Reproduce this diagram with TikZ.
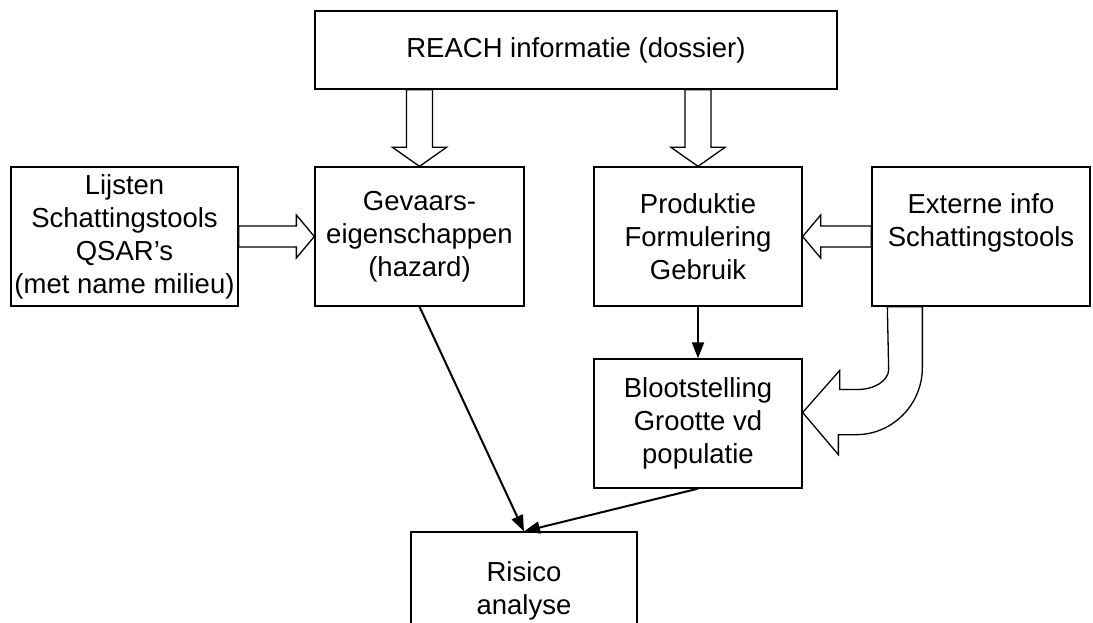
\documentclass[tikz,border=0pt]{standalone}
\usepackage{fontspec}
\setmainfont{Liberation Sans}
\usetikzlibrary{arrows.meta,calc}

\begin{document}
\begin{tikzpicture}[x=1pt,y=-1pt,
    box/.style={draw,line width=1.3pt,align=center,inner sep=0pt,font=\fontsize{27.5}{33}\selectfont},
    fat/.style={draw,line width=1.3pt,line join=miter},
    thin/.style={line width=2pt,-{Triangle[length=16pt,width=12pt]}}]
    \useasboundingbox (0,0) rectangle (1093,623);
    \clip (0,0) rectangle (1093,623);
    \node[box,minimum width=522,minimum height=78] (reach) at (576,50) {REACH informatie (dossier)};
    \node[box,minimum width=227,minimum height=139] (lijsten) at (124.5,236.5) {Lijsten\\Schattingstools\\QSAR’s\\(met name milieu)};
    \node[box,minimum width=209,minimum height=139] (gevaar) at (419.5,236.5) {Gevaars-\\eigenschappen\\(hazard)};
    \node[box,minimum width=208,minimum height=139] (produktie) at (698,236.5) {Produktie\\Formulering\\Gebruik};
    \node[box,minimum width=218,minimum height=139] (externe) at (981,236.5) {Externe info\\Schattingstools\\~};
    \node[box,minimum width=208,minimum height=129] (bloot) at (698,423.5) {Blootstelling\\Grootte vd\\populatie};
    \node[box,minimum width=226,minimum height=118] (risico) at (524,591) {Risico\\analyse};

    \foreach \t in {gevaar,produktie}{
        \draw[fat] (\t.north) -- ++(-27,-19) -- ++(14,0) -- ($(reach.south -| \t.north)+(-13,0)$)
            -- ++(26,0) -- ($(\t.north)+(13,-19)$) -- ++(14,0) -- cycle;
    }
    \foreach \a/\b/\s in {lijsten.east/gevaar.west/-1,externe.west/produktie.east/1}{
        \draw[fat] (\b) -- ++({\s*18},-21.5) -- ++(0,11) -- ($(\a)+(0,-10.5)$)
            -- ++(0,21) -- ($(\b)+({\s*18},10.5)$) -- ++(0,11) -- cycle;
    }
    \coordinate (tip) at ($(bloot.east)+(0,-11)$);
    \draw[fat] (tip) -- ++(37,-42) -- ++(0,19) -- ++(18,0) .. controls +(17,0) and +(0,11) .. ++(31,-20)
        -- ($(externe.south west)+(16,0)$) -- ++(35,0) -- ++(0,61) .. controls +(0,37) and +(36,0) .. ++(-66,67)
        -- ++(-18,0) -- ++(0,20) -- cycle;

    \draw[thin] (produktie.south) -- (bloot.north);
    \draw[thin] (gevaar.south) -- (risico.north);
    \draw[thin] (bloot.south) -- (risico.north);
\end{tikzpicture}
\end{document}
